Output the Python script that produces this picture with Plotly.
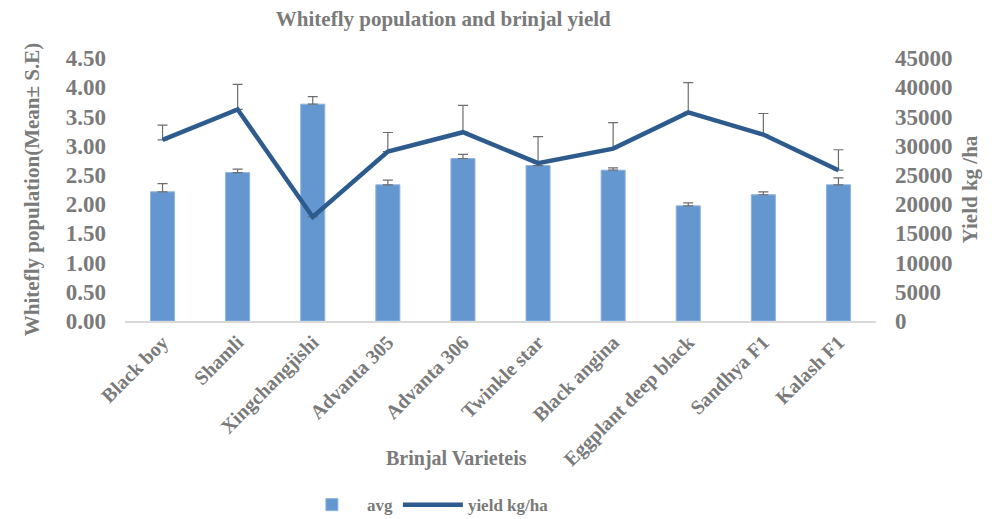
import plotly.graph_objects as go

varieties = ["Black boy", "Shamli", "Xingchangjishi", "Advanta 305", "Advanta 306",
             "Twinkle star", "Black angina", "Eggplant deep black", "Sandhya F1", "Kalash F1"]
avg = [2.21, 2.54, 3.71, 2.33, 2.78, 2.66, 2.58, 1.97, 2.16, 2.33]
avg_se = [0.14, 0.06, 0.13, 0.08, 0.07, 0.05, 0.04, 0.05, 0.05, 0.12]
yield_kg = [31000, 36200, 17800, 29000, 32300, 27000, 29500, 35700, 31900, 25800]
yield_se = [2500, 4300, 0, 3250, 4600, 4550, 4450, 5100, 3600, 3500]

gray = "#7a7a7a"
font_family = "Liberation Serif, Times New Roman, serif"

fig = go.Figure()
fig.add_trace(go.Bar(
    x=varieties, y=avg, name="avg",
    marker=dict(color="#6497d0", line=dict(color="#8db3e0", width=1)),
    error_y=dict(type="data", array=avg_se, arrayminus=[0]*len(avg_se), symmetric=False,
                 color="#6d6d6d", thickness=1.2, width=5),
))
fig.add_trace(go.Scatter(
    x=varieties, y=yield_kg, name="yield kg/ha", yaxis="y2", mode="lines",
    line=dict(color="#2e5b8e", width=4.5),
    error_y=dict(type="data", array=yield_se, arrayminus=[0]*len(yield_se), symmetric=False,
                 color="#6d6d6d", thickness=1.2, width=5),
))

fig.update_layout(
    width=994, height=519,
    margin=dict(l=125, r=118, t=58, b=198, autoexpand=False),
    paper_bgcolor="white", plot_bgcolor="white",
    font=dict(family=font_family, color=gray),
    bargap=0.68,
    title=dict(text="<b>Whitefly population and brinjal yield</b>",
               xref="container", x=0.446, xanchor="center", yref="container", y=0.965, yanchor="middle",
               font=dict(size=21, color=gray, family=font_family)),
    xaxis=dict(
        tickangle=-45, showgrid=False, showline=True, linecolor="#d9d9d9", linewidth=1.5,
        ticks="", automargin=False,
        tickfont=dict(size=20, color=gray, family=font_family, weight="bold"),
    ),
    yaxis=dict(
        range=[0, 4.5], dtick=0.5, tickformat=".2f", showgrid=False, zeroline=False,
        showline=False, ticks="", ticklabelstandoff=18, automargin=False,
        tickfont=dict(size=23, color=gray, family=font_family, weight="bold"),
        title=dict(text="<b>Whitefly population(Mean± S.E)</b>", font=dict(size=21, color=gray), standoff=20),
    ),
    yaxis2=dict(
        range=[0, 45000], dtick=5000, tickformat="d", overlaying="y", side="right", showgrid=False,
        zeroline=False, showline=False, ticks="", ticklabelstandoff=18, automargin=False,
        tickfont=dict(size=23, color=gray, family=font_family, weight="bold"),
        title=dict(text="<b>Yield kg /ha</b>", font=dict(size=21, color=gray), standoff=10),
    ),
    legend=dict(orientation="h", x=0.40, xanchor="center", y=-0.70, yanchor="middle",
                font=dict(size=17, color=gray, family=font_family, weight="bold"),
                itemwidth=60, traceorder="normal"),
    showlegend=True,
    annotations=[dict(text="<b>Brinjal Varieteis</b>", xref="paper", yref="paper",
                      x=0.442, y=-0.521, xanchor="center", yanchor="middle", showarrow=False,
                      font=dict(size=20, color=gray, family=font_family))],
)

fig.write_html("out.html")
